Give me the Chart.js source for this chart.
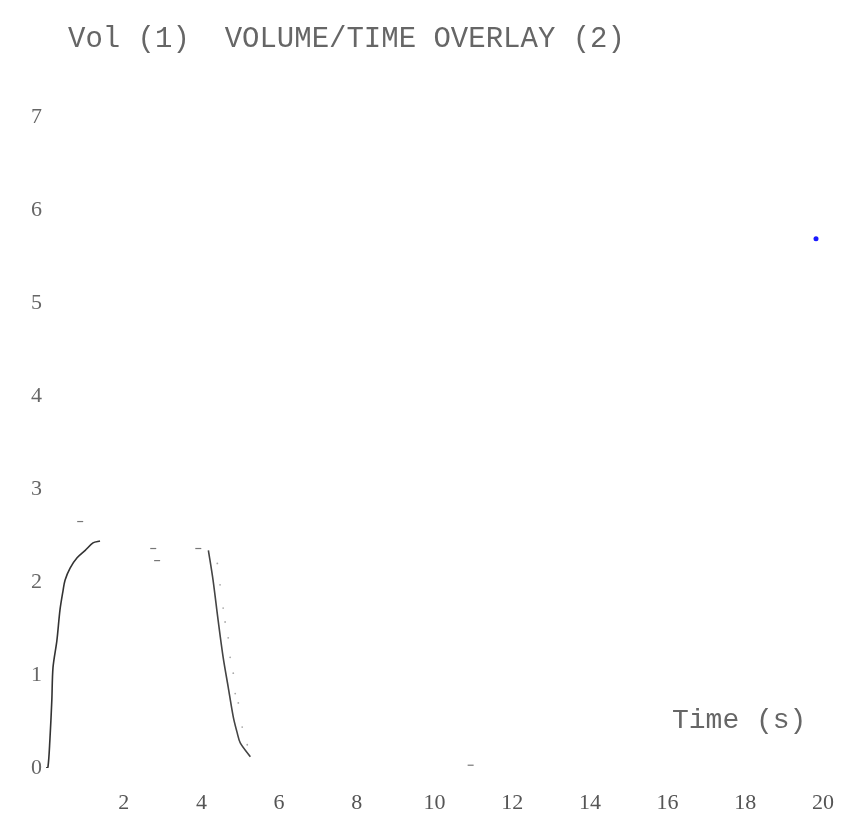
<!DOCTYPE html>
<html>
<head>
<meta charset="utf-8">
<script src="https://cdn.jsdelivr.net/npm/chart.js@4"></script>
<style>
html,body{margin:0;padding:0;background:#fff;}
#wrap{width:846px;height:815px;}
</style>
</head>
<body>
<div id="wrap"><canvas id="c" width="846" height="815"></canvas></div>
<script>
// Trial 1 (rise)
const trial1Time = [0.00, 0.05, 0.10, 0.15, 0.18, 0.28, 0.36, 0.44, 0.49, 0.62, 0.80, 1.01, 1.21, 1.39];
const trial1Vol  = [0.00, 0.01, 0.30, 0.73, 1.08, 1.37, 1.70, 1.91, 2.02, 2.15, 2.26, 2.34, 2.42, 2.44];
// Trial 2 (fall)
const trial2Time = [4.18, 4.30, 4.43, 4.56, 4.69, 4.82, 4.92, 5.00, 5.26];
const trial2Vol  = [2.34, 2.02, 1.59, 1.19, 0.87, 0.55, 0.38, 0.27, 0.12];
// faint trace beside trial 2
const faintTime = [4.41, 4.48, 4.56, 4.61, 4.69, 4.74, 4.82, 4.87, 4.95, 5.05, 5.18];
const faintVol  = [2.20, 1.97, 1.72, 1.57, 1.40, 1.19, 1.02, 0.80, 0.70, 0.44, 0.25];
// stray marks
const markTime = [0.88, 2.76, 2.86, 3.92, 10.93];
const markVol  = [2.65, 2.36, 2.23, 2.36, 0.03];
// blue point
const blueTime = [19.82];
const blueVol  = [5.69];

const xTicks = [2, 4, 6, 8, 10, 12, 14, 16, 18, 20];
const yTicks = [0, 1, 2, 3, 4, 5, 6, 7];
const titleText = "Vol (1)  VOLUME/TIME OVERLAY (2)";
const xLabelText = "Time (s)";

const pts = (xs, ys) => xs.map((x, i) => ({x: x, y: ys[i]}));

const textPlugin = {
  id: 'texts',
  afterDraw(chart) {
    const ctx = chart.ctx;
    ctx.save();
    ctx.fillStyle = '#666';
    ctx.textBaseline = 'middle';
    ctx.textAlign = 'left';
    ctx.font = '29px "Liberation Mono", monospace';
    ctx.fillText(titleText, 68, 39);
    ctx.font = '28px "Liberation Mono", monospace';
    ctx.fillText(xLabelText, 672, 721);
    ctx.restore();
  }
};

new Chart(document.getElementById('c'), {
  type: 'scatter',
  data: {
    datasets: [
      { data: pts(trial1Time, trial1Vol), showLine: true, borderColor: '#333', borderWidth: 1.6, pointRadius: 0, tension: 0.3 },
      { data: pts(trial2Time, trial2Vol), showLine: true, borderColor: '#444', borderWidth: 1.6, pointRadius: 0, tension: 0.3 },
      { data: pts(faintTime, faintVol), showLine: false, pointRadius: 0.9, pointBackgroundColor: '#aaa', pointBorderWidth: 0 },
      { data: pts(markTime, markVol), showLine: false, pointStyle: 'line', pointRadius: 3, borderColor: '#777', pointBorderColor: '#777', pointBorderWidth: 1.2 },
      { data: pts(blueTime, blueVol), showLine: false, pointRadius: 2.5, pointBackgroundColor: '#1a1aff', pointBorderColor: '#1a1aff', pointBorderWidth: 0 }
    ]
  },
  options: {
    responsive: false,
    animation: false,
    layout: { padding: { top: 117, right: 23, left: 0, bottom: 0 } },
    plugins: { legend: { display: false }, tooltip: { enabled: false }, title: { display: false } },
    scales: {
      x: {
        type: 'linear', min: 0, max: 20,
        border: { display: false },
        grid: { display: false, drawTicks: false },
        afterBuildTicks(s) { s.ticks = xTicks.map(v => ({value: v})); },
        afterFit(s) { s.height = 47; s.paddingRight = 11; s.paddingLeft = 0; },
        ticks: { color: '#555', padding: 22, font: { family: '"Liberation Serif", serif', size: 22 }, maxRotation: 0, autoSkip: false }
      },
      y: {
        type: 'linear', min: 0, max: 7,
        border: { display: false },
        grid: { display: false, drawTicks: false },
        afterBuildTicks(s) { s.ticks = yTicks.map(v => ({value: v})); },
        afterFit(s) { s.width = 46; s.paddingTop = 0; s.paddingBottom = 0; },
        ticks: { color: '#666', padding: 4, font: { family: '"Liberation Serif", serif', size: 22 } }
      }
    }
  },
  plugins: [textPlugin]
});
</script>
</body>
</html>
